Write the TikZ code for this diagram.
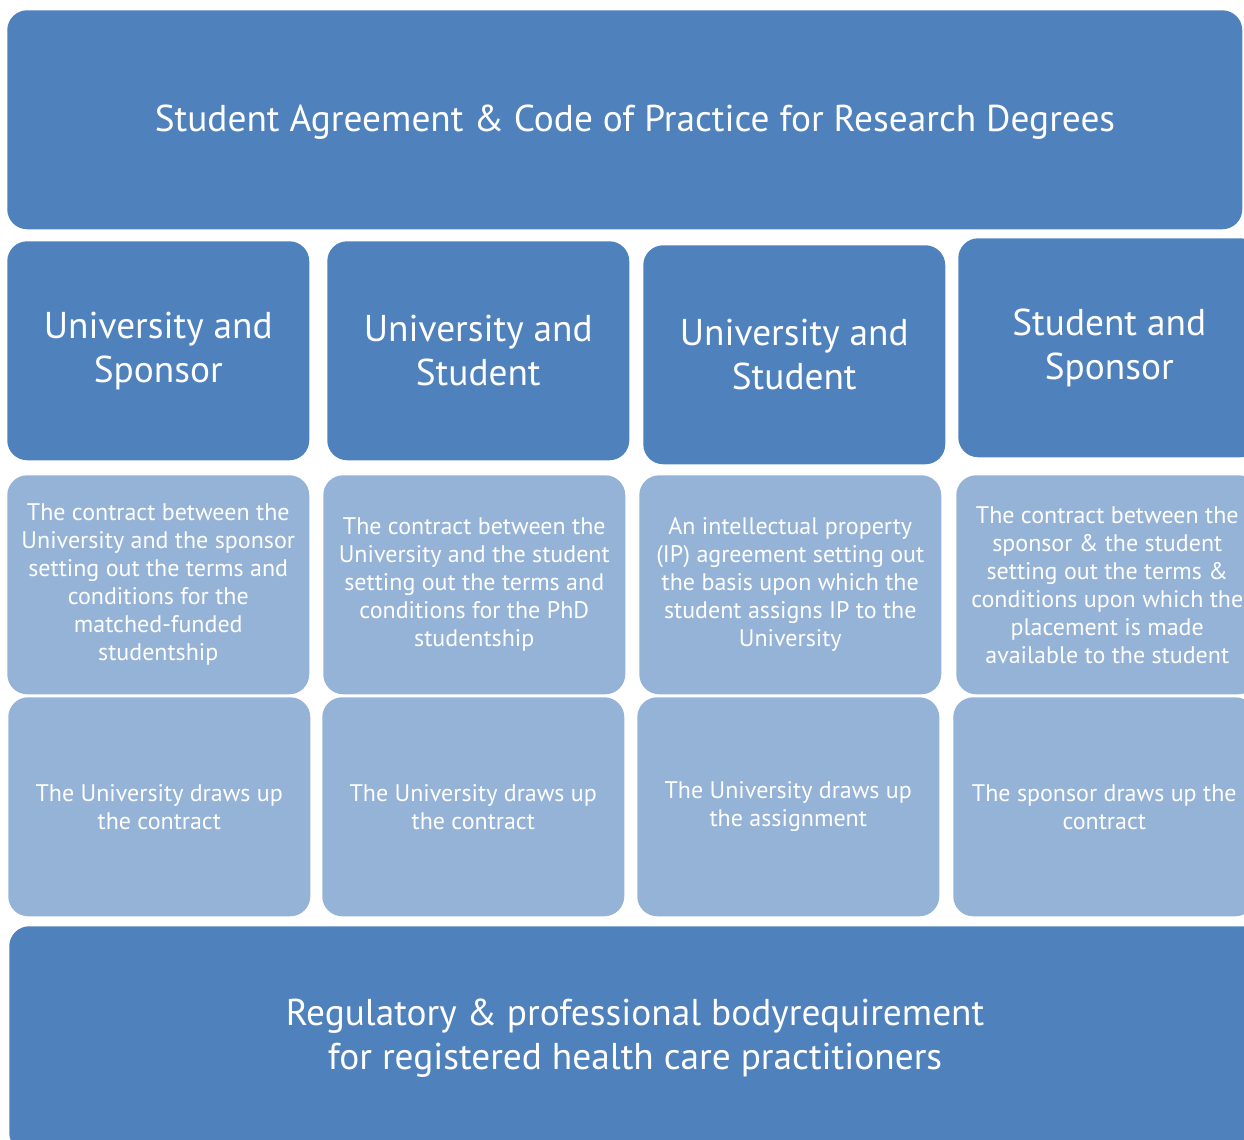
\documentclass[tikz,border=0pt]{standalone}
\usepackage{fontspec}
\setmainfont{PT Sans}
\definecolor{darkb}{HTML}{4F81BD}
\definecolor{lightb}{HTML}{95B3D7}
\begin{document}
\begin{tikzpicture}[x=0.75pt,y=-0.75pt,
  cell/.style={anchor=north west, rounded corners=15pt, inner sep=0pt, text=white, align=center,
    minimum width=226.5pt, minimum height=164.25pt},
  head/.style={cell, fill=darkb, font=\fontsize{28}{33}\selectfont},
  body/.style={cell, fill=lightb, font=\fontsize{18}{21}\selectfont},
  wide/.style={anchor=north west, rounded corners=15pt, inner sep=0pt, text=white, align=center,
    fill=darkb, font=\fontsize{28}{33}\selectfont, minimum height=164.25pt}]
\useasboundingbox (0,0) rectangle (1244,1139);
\clip (0,0) rectangle (1244,1139);
% top
\node[wide, minimum width=926.25pt] (top) at (7,10) {};
\node[text=white, font=\fontsize{28}{33}\selectfont] (toptxt) at (635,122) {Student Agreement \& Code of Practice for Research Degrees};
% header row
\node[head] (h1) at (7,241) {University and\\Sponsor};
\node[head] (h2) at (327,241) {University and\\Student};
\node[head] (h3) at (643,245) {University and\\Student};
\node[head] (h4) at (958,238) {Student and\\Sponsor};
% body row 1
\node[body] (b1) at (7,475) {The contract between the\\University and the sponsor\\setting out the terms and\\conditions for the\\matched-funded\\studentship};
\node[body] (b2) at (323,475) {The contract between the\\University and the student\\setting out the terms and\\conditions for the PhD\\studentship};
\node[body] (b3) at (639,475) {An intellectual property\\(IP) agreement setting out\\the basis upon which the\\student assigns IP to the\\University};
\node[body] (b4) at (956,475) {The contract between the\\sponsor \& the student\\setting out the terms \&\\conditions upon which the\\placement is made\\available to the student};
% body row 2
\node[body] (c1) at (8,697) {The University draws up\\the contract};
\node[body] (c2) at (322,697) {The University draws up\\the contract};
\node[body] (c3) at (637,697) {The University draws up\\the assignment};
\node[body] (c4) at (953,697) {The sponsor draws up the\\contract};
% bottom
\node[wide, minimum width=940pt, minimum height=170pt] (bot) at (9,926) {};
\node[text=white, align=center, font=\fontsize{28}{33}\selectfont] (bottxt) at (635,1038) {Regulatory \& professional bodyrequirement\\for registered health care practitioners};
\end{tikzpicture}
\end{document}
